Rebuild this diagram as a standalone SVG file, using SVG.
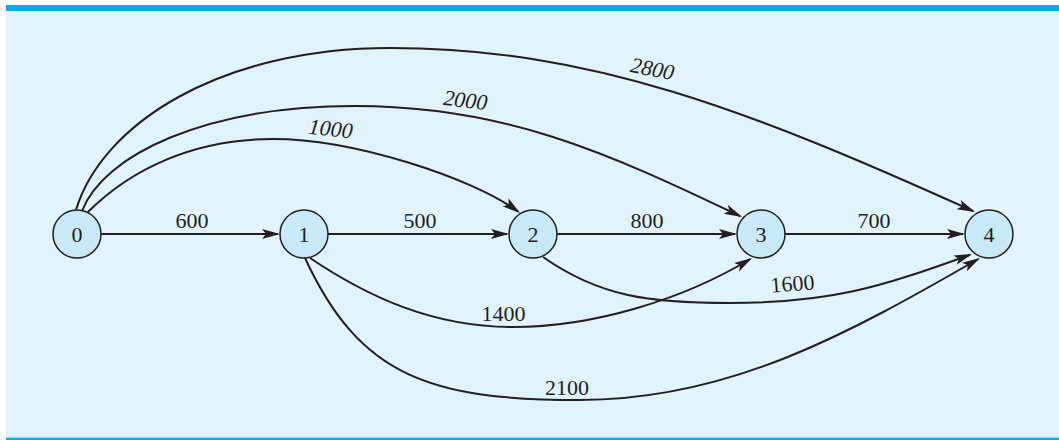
<svg xmlns="http://www.w3.org/2000/svg" width="1059" height="440" viewBox="0 0 1059 440">
<style>
.edge{fill:none;stroke:#231f20;stroke-width:2}
.node circle{fill:#c8e9f8;stroke:#231f20;stroke-width:1.5}
.nl{font-family:"Liberation Serif","Times New Roman",serif;font-size:22px;fill:#231f20;text-anchor:middle}
.lbl{font-family:"Liberation Serif","Times New Roman",serif;font-size:22px;fill:#231f20;text-anchor:middle}
.it{font-style:italic}
</style>
<defs>
<marker id="ah" markerUnits="userSpaceOnUse" viewBox="-20 -6 22 12" refX="-2" refY="0" markerWidth="22" markerHeight="12" orient="auto">
<path d="M0,0 L-18,-5 L-14,0 L-18,5 Z" fill="#231f20"/>
</marker>
</defs>
<rect x="6" y="5" width="1053" height="435" fill="#e1f3fc"/>
<rect x="6" y="5" width="1053" height="6" fill="#00aeef"/>
<rect x="6" y="437.7" width="1053" height="2.3" fill="#00aeef"/>
<g id="connectors">
<path class="edge" d="M101,234 L278,234" marker-end="url(#ah)"/>
<path class="edge" d="M328,234 L507,234" marker-end="url(#ah)"/>
<path class="edge" d="M557,234 L735,234" marker-end="url(#ah)"/>
<path class="edge" d="M785,234 L963,234" marker-end="url(#ah)"/>
<path class="edge" d="M88,212 C130.4,169.6 193,139 273,139 C353,139 471.7,177.4 518.4,211.8" marker-end="url(#ah)"/>
<path class="edge" d="M82,211 C103.6,155 205,106 355,106 C505,106 607,152.5 740.2,216.1" marker-end="url(#ah)"/>
<path class="edge" d="M76,210 C102,124 220,48 390,48 C590,48 747.5,109.5 973.2,211.2" marker-end="url(#ah)"/>
<path class="edge" d="M310,258 C368,297 433,327 513,327 C593,327 683,299.6 750.3,259" marker-end="url(#ah)"/>
<path class="edge" d="M543,257 C600,297 650,303 730,303 C830,303 878,288 970.1,254.7" marker-end="url(#ah)"/>
<path class="edge" d="M305,258 C359.6,376.3 430,400 580,400 C730,400 849.5,333 978.3,259" marker-end="url(#ah)"/>
<text class="lbl" x="192" y="228">600</text>
<text class="lbl" x="420" y="228">500</text>
<text class="lbl" x="647" y="228">800</text>
<text class="lbl" x="874" y="228">700</text>
<text class="lbl it" x="330" y="136" transform="rotate(6 330 136)">1000</text>
<text class="lbl it" x="464.5" y="107.5" transform="rotate(7 464.5 107.5)">2000</text>
<text class="lbl it" x="651" y="76" transform="rotate(11 651 76)">2800</text>
<text class="lbl" x="503.5" y="321">1400</text>
<text class="lbl" x="793" y="291" transform="rotate(-4.5 793 291)">1600</text>
<text class="lbl" x="567" y="395">2100</text>
</g>
<g id="node0" class="node"><circle cx="77" cy="234" r="24"/><text class="nl" x="77" y="242">0</text></g>
<g id="node1" class="node"><circle cx="304" cy="234" r="24"/><text class="nl" x="304" y="242">1</text></g>
<g id="node2" class="node"><circle cx="533" cy="234" r="24"/><text class="nl" x="533" y="242">2</text></g>
<g id="node3" class="node"><circle cx="761" cy="234" r="24"/><text class="nl" x="761" y="242">3</text></g>
<g id="node4" class="node"><circle cx="989" cy="234" r="24"/><text class="nl" x="989" y="242">4</text></g>
</svg>
